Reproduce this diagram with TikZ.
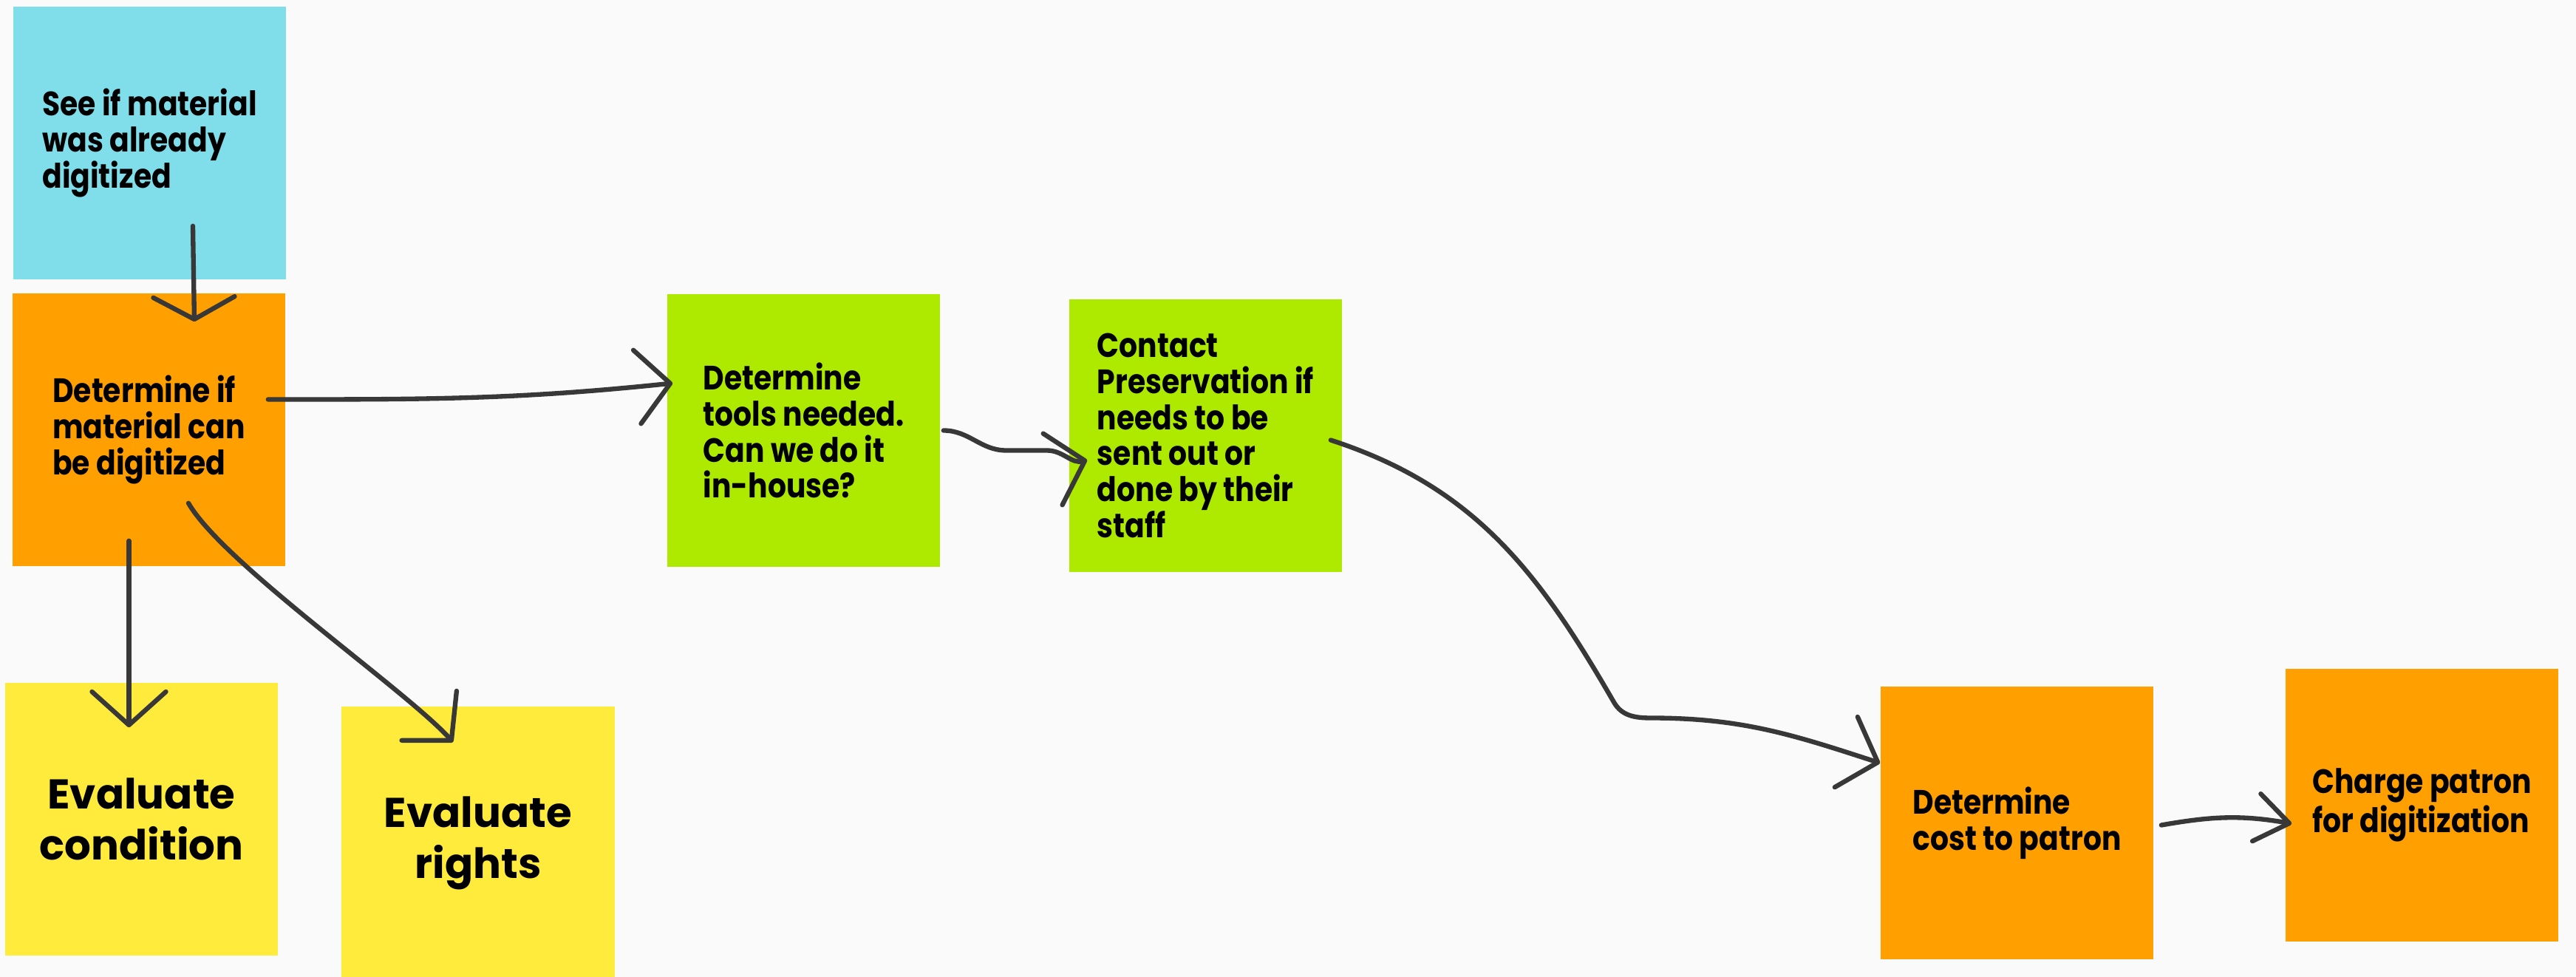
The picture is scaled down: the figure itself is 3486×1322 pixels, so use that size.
\documentclass[tikz,border=0pt]{standalone}
\usepackage{fontspec}
\usetikzlibrary{arrows.meta}
\newfontfamily\notefont{Poppins}[FakeStretch=0.86]
\newfontfamily\bignotefont{Poppins}
\definecolor{boardgray}{HTML}{FAFAFA}
\definecolor{inkgray}{HTML}{383838}
\definecolor{stickyblue}{HTML}{80DEEA}
\definecolor{stickyorange}{HTML}{FFA000}
\definecolor{stickyyellow}{HTML}{FFEB3B}
\definecolor{stickygreen}{HTML}{AEEA00}

\begin{document}
\begin{tikzpicture}[x = 0.01cm, y = 0.01cm,
    note/.style = {minimum width=3.69cm, minimum height=3.69cm, inner sep=0pt, align=left,
        font=\notefont\bfseries\fontsize{13pt}{13.9pt}\selectfont},
    bignote/.style = {note, align=center, font=\bignotefont\bfseries\fontsize{16pt}{19.6pt}\selectfont},
    link/.style = {draw=inkgray, line width=1.8pt, line cap=round, line join=round,
        -{Straight Barb[round, length=0.45cm, width=1cm]}}]
    \fill[boardgray] (0,0) rectangle (3486,-1322);
    \useasboundingbox (0,0) rectangle (3486,-1322);

    \node[note, fill=stickyblue] (see) at (202.5,-193.5) {See if material\\was already\\digitized};
    \node[note, fill=stickyorange] (check) at (201.5,-581.5) {Determine if\\material can\\be digitized};
    \node[bignote, fill=stickyyellow] (cond) at (191.5,-1108.5) {Evaluate\\condition};
    \node[bignote, fill=stickyyellow] (rights) at (647,-1140.5) {Evaluate\\rights};
    \node[note, fill=stickygreen] (tools) at (1087.5,-582.5) {Determine\\tools needed.\\Can we do it\\in-house?};
    \node[note, fill=stickygreen] (contact) at (1631.5,-589.5) {Contact\\Preservation if\\needs to be\\sent out or\\done by their\\staff};
    \node[note, fill=stickyorange] (cost) at (2729.5,-1113.5) {Determine\\cost to patron};
    \node[note, fill=stickyorange] (charge) at (3277.5,-1089.5) {Charge patron\\for digitization};

    \draw[link, -{Straight Barb[round, length=0.3cm, width=1.1cm]}]
    ([shift={(58.5,73)}]see.south) -- ([shift={(61.5,-39)}]check.north);
    \draw[link]
    ([shift={(-27,35)}]check.south) -- ([shift={(-17,-61)}]cond.north);
    \draw[link]
    ([shift={(53.5,86)}]check.south) to[out=-60, in=132, looseness=0.5] ([shift={(-34,-49)}]rights.north);
    \draw[link]
    ([shift={(-24,41)}]check.east) to[out=0, in=186] ([shift={(8,64)}]tools.west);
    \draw[link]
    ([shift={(4,0)}]tools.east) to[out=0, in=180] ++(85,-27) -- ++(55,0) to[out=0, in=195] ([shift={(25,-33)}]contact.west);
    \draw[link]
    ([shift={(-16,-6)}]contact.east) to[out=-18, in=120] ([shift={(-360,163)}]cost.west)
    to[out=-60, in=180] ([shift={(-310,142)}]cost.west) to[out=0, in=162] ([shift={(0,81)}]cost.west);
    \draw[link, -{Straight Barb[round, length=0.45cm, width=0.65cm]}]
    ([shift={(10,-3)}]cost.east) to[out=10, in=170] ([shift={(9,-25)}]charge.west);
\end{tikzpicture}
\end{document}
